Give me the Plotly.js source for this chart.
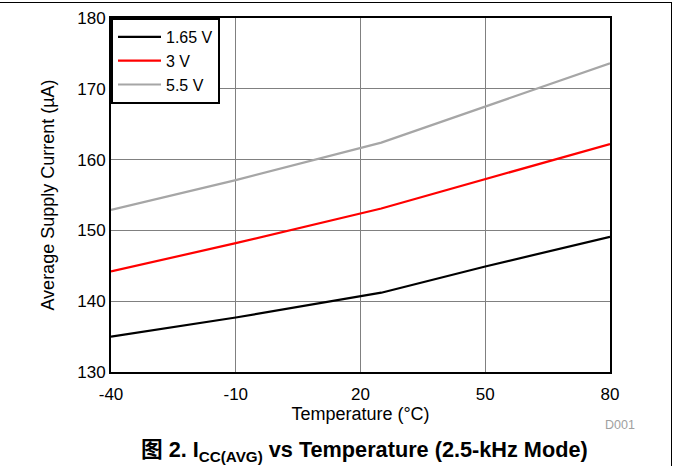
<!DOCTYPE html>
<html>
<head>
<meta charset="utf-8">
<script src="https://cdn.plot.ly/plotly-3.0.1.min.js"></script>
<style>
  html, body { margin: 0; padding: 0; background: #fff; }
  #wrap { position: relative; width: 673px; height: 466px; }
  #chart { width: 673px; height: 466px; }
  #frame { position: absolute; left: 0; top: 2px; width: 671px; height: 464px;
           border-top: 1px solid #000; border-right: 1px solid #000; pointer-events: none; }
</style>
</head>
<body>
<div id="wrap">
  <div id="chart"></div>
  <div id="frame"></div>
</div>
<script>
const temperatures = [-40, -10, 25, 50, 80];
const current165V = [135.0, 137.7, 141.2, 144.9, 149.1];
const current3V = [144.2, 148.2, 153.1, 157.2, 162.2];
const current55V = [152.9, 157.1, 162.4, 167.5, 173.6];
const seriesNames = ['1.65 V', '3 V', '5.5 V'];
const xTicks = [-40, -10, 20, 50, 80];
const yTicks = [130, 140, 150, 160, 170, 180];

const FONT = 'Liberation Sans, Arial, Noto Sans CJK SC, sans-serif';

const traces = [
  { x: temperatures, y: current165V, name: seriesNames[0], mode: 'lines', line: { color: '#000000', width: 2.2 } },
  { x: temperatures, y: current3V, name: seriesNames[1], mode: 'lines', line: { color: '#ff0000', width: 2.2 } },
  { x: temperatures, y: current55V, name: seriesNames[2], mode: 'lines', line: { color: '#a6a6a6', width: 2.2 } }
];

const layout = {
  width: 673, height: 466,
  margin: { l: 111, r: 63, t: 18, b: 94 },
  paper_bgcolor: '#ffffff', plot_bgcolor: '#ffffff',
  font: { family: FONT, size: 17, color: '#000' },
  showlegend: true,
  legend: {
    x: 0, y: 1, xanchor: 'left', yanchor: 'top',
    bgcolor: '#ffffff', bordercolor: '#000000', borderwidth: 2,
    font: { family: FONT, size: 16, color: '#000' },
    itemwidth: 43
  },
  xaxis: {
    range: [-40, 80], tickvals: xTicks, ticktext: xTicks.map(String),
    showgrid: true, gridcolor: '#808080', gridwidth: 1, zeroline: false,
    showline: true, mirror: true, linecolor: '#000', linewidth: 2,
    ticks: '', tickfont: { size: 17 }, ticklabelstandoff: 6,
    title: { text: 'Temperature (°C)', font: { size: 18 }, standoff: 3 }
  },
  yaxis: {
    range: [130, 180], tickvals: yTicks, ticktext: yTicks.map(String),
    showgrid: true, gridcolor: '#808080', gridwidth: 1, zeroline: false,
    showline: true, mirror: true, linecolor: '#000', linewidth: 2,
    ticks: '', tickfont: { size: 17 },
    title: { text: 'Average Supply Current (µA)', font: { size: 18 }, standoff: 18 }
  },
  annotations: [
    { text: 'D001', xref: 'paper', yref: 'paper', x: 1.02, y: -0.15, xanchor: 'center', yanchor: 'middle',
      showarrow: false, font: { family: FONT, size: 12.5, color: '#a0a0a0' } },
    { text: '<b>图 2. I<sub>CC(AVG)</sub> vs Temperature (2.5-kHz Mode)</b>', xref: 'paper', yref: 'paper',
      x: 0.509, y: -0.222, xanchor: 'center', yanchor: 'middle', showarrow: false,
      font: { family: FONT, size: 21.7, color: '#000' } }
  ]
};

Plotly.newPlot('chart', traces, layout, { displayModeBar: false, staticPlot: true });
</script>
</body>
</html>
